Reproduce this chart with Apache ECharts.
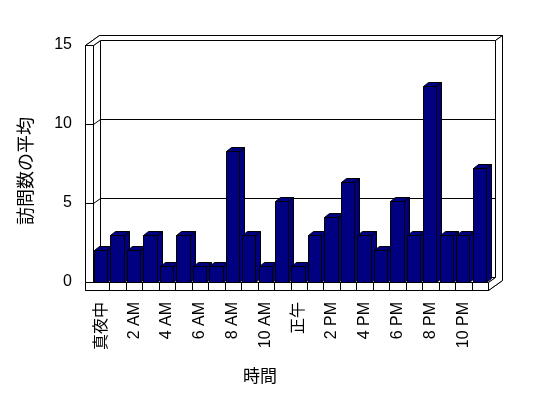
<!DOCTYPE html>
<html>
<head>
<meta charset="utf-8">
<script src="https://cdn.jsdelivr.net/npm/echarts@6/dist/echarts.min.js"></script>
<style>
  html, body { margin: 0; padding: 0; background: #fff; }
  #main { width: 548px; height: 398px; }
</style>
</head>
<body>
<div id="main"></div>
<script>
// ---- data ----
const categories = ['真夜中','1 AM','2 AM','3 AM','4 AM','5 AM','6 AM','7 AM','8 AM','9 AM','10 AM','11 AM',
                    '正午','1 PM','2 PM','3 PM','4 PM','5 PM','6 PM','7 PM','8 PM','9 PM','10 PM','11 PM'];
const visits = [2, 3, 2, 3, 1, 3, 1, 1, 8.3, 3, 1, 5.1, 1, 3, 4.1, 6.3, 3, 2, 5.1, 3, 12.4, 3, 3, 7.2];
const yTicks = [0, 5, 10, 15];
const xTitle = '時間';
const yTitle = '訪問数の平均';

// ---- style constants ----
const FONT = "'Liberation Sans', 'Noto Sans CJK JP', sans-serif";
const BAR_COLOR = '#000080';
const WALL_DX = 7, WALL_DY = -5;   // wall depth (oblique projection)
const LEFT_WALL = 8, FLOOR_T = 8;  // slab thickness

const s = v => Math.round(v) + 0.5;   // snap to pixel for crisp 1px lines

const chart = echarts.init(document.getElementById('main'), null, { renderer: 'canvas' });

function frameRender(params, api) {
  const cs = params.coordSys;
  const x0 = s(cs.x), x1 = s(cs.x + cs.width), yT = s(cs.y), yB = s(cs.y + cs.height);
  const xo = x0 - LEFT_WALL, yo = yB + FLOOR_T;
  const dx = WALL_DX, dy = WALL_DY;
  const ls = { stroke: '#000', lineWidth: 1, fill: null };
  const ws = { stroke: '#000', lineWidth: 1, fill: '#fff' };
  const L = (a, b) => ({ type: 'line', shape: { x1: a[0], y1: a[1], x2: b[0], y2: b[1] }, style: ls });
  const P = (pts) => ({ type: 'polygon', shape: { points: pts }, style: ws });
  const ch = [];
  ch.push(P([[xo, yT], [xo + 2 * dx, yT + 2 * dy], [x1 + 2 * dx, yT + 2 * dy], [x1 + 2 * dx, yo + 2 * dy], [x1, yo], [xo, yo]]));
  ch.push(P([[x0 + dx, yT + dy], [x1 + dx, yT + dy], [x1 + dx, yB + dy], [x0 + dx, yB + dy]]));
  ch.push(P([[x0, yT], [x0 + dx, yT + dy], [x0 + dx, yB + dy], [x0, yB]]));
  ch.push(P([[x0, yB], [x0 + dx, yB + dy], [x1 + dx, yB + dy], [x1, yB]]));
  ch.push(P([[xo, yT], [x0, yT], [x0, yB], [xo, yB]]));
  ch.push(P([[xo, yB], [x1, yB], [x1, yo], [xo, yo]]));
  ch.push(P([[xo, yT], [x0, yT], [x0 + dx, yT + dy], [x1 + dx, yT + dy], [x1 + 2 * dx, yT + 2 * dy], [xo + 2 * dx, yT + 2 * dy]]));
  ch.push(P([[x1 + dx, yT + dy], [x1 + 2 * dx, yT + 2 * dy], [x1 + 2 * dx, yo + 2 * dy], [x1, yo], [x1, yB], [x1 + dx, yB + dy]]));
  yTicks.forEach(t => {
    if (t === 0 || t === yTicks[yTicks.length - 1]) return;
    const y = s(api.coord([0, t])[1]);
    ch.push(L([xo, y], [x0, y]));
    ch.push(L([x0, y], [x0 + dx, y + dy]));
    ch.push(L([x0 + dx, y + dy], [x1 + dx, y + dy]));
  });
  const w = cs.width / categories.length;
  for (let k = 1; k < categories.length; k++) {
    const x = s(cs.x + k * w);
    ch.push(L([x, yB], [x, yo]));
  }
  return { type: 'group', children: ch };
}

function barRender(params, api) {
  const i = api.value(0), v = api.value(1);
  const base = api.coord([i, 0]);
  const top = api.coord([i, v]);
  const w = api.size([1, 0])[0];
  const xl = s(base[0] - w / 2 + w * 0.06);
  const xr = s(base[0] - w / 2 + w * 0.06 + w * 0.81);
  const dx = Math.round(w * 0.33), dy = -Math.round(w * 0.26);
  const st = { fill: BAR_COLOR, stroke: '#000', lineWidth: 1 };
  const yt = s(top[1]), yb = s(base[1]);
  return {
    type: 'group',
    children: [
      { type: 'polygon', shape: { points: [[xr, yt], [xr + dx, yt + dy], [xr + dx, yb + dy], [xr, yb]] }, style: st },
      { type: 'polygon', shape: { points: [[xl, yt], [xl + dx, yt + dy], [xr + dx, yt + dy], [xr, yt]] }, style: st },
      { type: 'polygon', shape: { points: [[xl, yt], [xr, yt], [xr, yb], [xl, yb]] }, style: st }
    ]
  };
}

const option = {
  animation: false,
  backgroundColor: '#fff',
  grid: { left: 93, right: 60, top: 45, bottom: 116, containLabel: false },
  xAxis: {
    type: 'category',
    data: categories,
    axisLine: { show: false },
    axisTick: { show: false },
    axisLabel: { interval: 1, rotate: 90, margin: 20, color: '#000', fontSize: 16, fontFamily: FONT }
  },
  yAxis: {
    type: 'value',
    min: 0, max: 15, interval: 5,
    axisLine: { show: false },
    axisTick: { show: false },
    splitLine: { show: false },
    axisLabel: { margin: 21, color: '#000', fontSize: 16, fontFamily: FONT }
  },
  graphic: [
    { type: 'text', x: 260, y: 377, style: { text: xTitle, fill: '#000', font: "17px " + FONT, align: 'center', verticalAlign: 'middle' } },
    { type: 'text', x: 27, y: 171, rotation: Math.PI / 2, style: { text: yTitle, fill: '#000', font: "18px " + FONT, align: 'center', verticalAlign: 'middle' } }
  ],
  series: [
    { type: 'custom', renderItem: frameRender, data: [[0, 0]], silent: true, z: 1 },
    { type: 'custom', renderItem: barRender, data: visits.map((v, i) => [i, v]), z: 2 }
  ]
};
chart.setOption(option);
</script>
</body>
</html>
